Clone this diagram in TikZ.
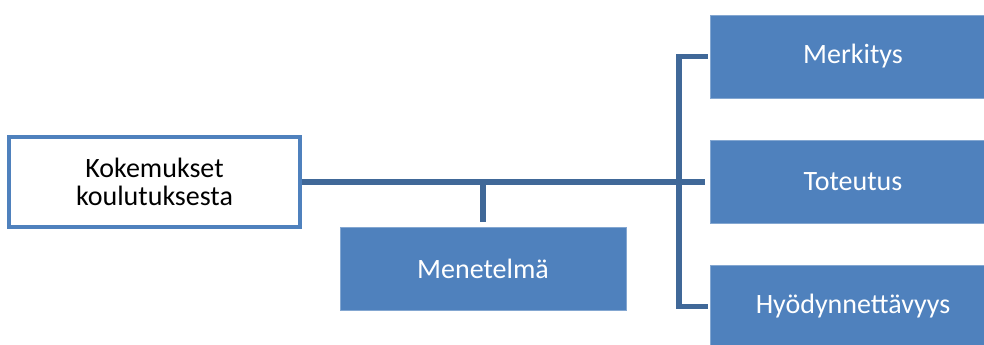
\documentclass[tikz,border=0pt]{standalone}
\usepackage{fontspec}
\setmainfont{Carlito}
\usepackage{tikz}
\definecolor{boxblue}{RGB}{79,129,189}
\definecolor{linkblue}{RGB}{64,104,152}

\begin{document}
\begin{tikzpicture}[x=0.75pt,y=-0.75pt,
  whitebox/.style={draw=boxblue,line width=3.3pt,fill=white,text=black,
    minimum width=218.25pt,minimum height=67.5pt,align=center,
    font=\fontsize{21}{21.5}\selectfont},
  bluebox/.style={draw=boxblue!70!white,line width=0.5pt,fill=boxblue,text=white,
    minimum width=214.5pt,minimum height=62.25pt,outer sep=3.75pt,
    font=\fontsize{21}{21.5}\selectfont},
  link/.style={draw=linkblue,line width=3.8pt}]
\clip (0,0) rectangle (984,345);

\node[whitebox] (koke) at (154.5,182) {Kokemukset\\koulutuksesta};
\node[bluebox] (meth) at (483,268.5) {Menetelm\"a};

\node[bluebox] (mer) at (853,56.5) {Merkitys};
\node[bluebox] (tot) at (853,182) {Toteutus};
\node[bluebox] (hyo) at (853,306.5) {Hy\"odynnett\"avyys};

% connectors
\draw[link] (koke.east) -- (koke.east -| tot.west);
\draw[link] (meth.north) -- (meth.north |- koke.east);
\draw[link,line cap=rect] (mer.west) -- ++(-26,0) |- (hyo.west);
\end{tikzpicture}
\end{document}
